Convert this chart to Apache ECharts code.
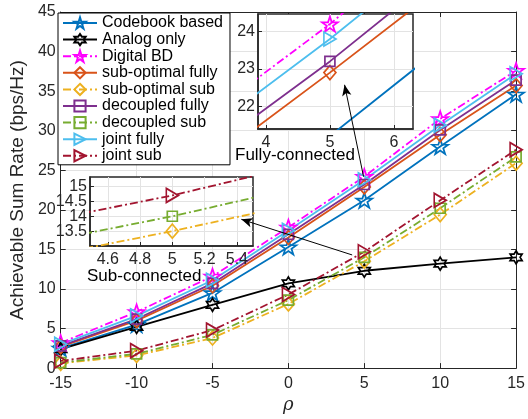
<!DOCTYPE html>
<html>
<head>
<meta charset="utf-8">
<script src="https://cdn.jsdelivr.net/npm/echarts@6/dist/echarts.min.js"></script>
<style>html,body{margin:0;padding:0;background:#fff}#c{width:528px;height:419px}</style>
</head>
<body>
<div id="c"></div>
<script>
// ---- data ----
const rho = [-15, -10, -5, 0, 5, 10, 15];
const xTicks = [-15, -10, -5, 0, 5, 10, 15];
const yTicks = [0, 5, 10, 15, 20, 25, 30, 35, 40, 45];
const codebook    = [2.5, 5.5, 9.5, 15.3, 21.2, 28.0, 34.6];
const analog      = [2.4, 5.2, 8.0, 10.7, 12.3, 13.2, 14.0];
const digitalBD   = [3.2, 7.1, 11.6, 17.8, 24.2, 31.5, 37.6];
const subOptFully = [2.7, 6.0, 10.4, 16.5, 22.9, 29.5, 35.7];
const subOptSub   = [0.6, 1.6, 3.8, 8.1, 13.5, 19.4, 25.9];
const decFully    = [2.8, 6.2, 10.7, 16.9, 23.2, 30.1, 36.4];
const decSub      = [0.7, 1.8, 4.2, 8.6, 14.0, 20.2, 26.7];
const jointFully  = [3.0, 6.6, 11.1, 17.4, 23.8, 30.7, 37.2];
const jointSub    = [0.9, 2.2, 4.8, 9.3, 14.7, 21.2, 27.6];
const inset1XTicks = [4, 5, 6];
const inset1YTicks = [22, 23, 24];
const inset2XTicks = [4.6, 4.8, 5, 5.2, 5.4];
const inset2YTicksA = [13.5, 14.5];
const inset2YTicksB = [14, 15];
const names = ['Codebook based','Analog only','Digital BD','sub-optimal fully','sub-optimal sub',
               'decoupled fully','decoupled sub','joint fully','joint sub'];
// arrows (in main-axis data units)
const arrow1 = [[4.95, 24.2], [3.7, 35.8]];
const arrow2 = [[4.2, 14.3], [-3.1, 18.8]];

const FONT = 'Liberation Sans, Arial, Helvetica, sans-serif';
const AX = '#262626';
const GRIDC = '#e3e3e3';

const STAR = 'path://M50,0 L61.23,34.55 L97.55,34.55 L68.16,55.9 L79.39,90.45 L50,69.1 L20.61,90.45 L31.84,55.9 L2.45,34.55 L38.77,34.55 Z';
const HEX = 'path://M50,0 L64.43,25 L93.3,25 L78.87,50 L93.3,75 L64.43,75 L50,100 L35.57,75 L6.7,75 L21.13,50 L6.7,25 L35.57,25 Z';
const TRI = 'path://M0,0 L100,50 L0,100 Z';

const DASHDOT = [8, 3, 2, 3];
const spec = {
  'Codebook based':    {d: codebook,    c: '#0072BD', s: STAR, sz: [16,15], t: 'solid'},
  'Analog only':       {d: analog,      c: '#000000', s: HEX, sz: [12,13], t: 'solid'},
  'Digital BD':        {d: digitalBD,   c: '#FF00FF', s: STAR, sz: [16,15], t: DASHDOT},
  'sub-optimal fully': {d: subOptFully, c: '#D95319', s: 'diamond', sz: [12,14], t: 'solid'},
  'sub-optimal sub':   {d: subOptSub,   c: '#EDB120', s: 'diamond', sz: [12,14], t: DASHDOT},
  'decoupled fully':   {d: decFully,    c: '#7E2F8E', s: 'rect', sz: [10,10], t: 'solid'},
  'decoupled sub':     {d: decSub,      c: '#77AC30', s: 'rect', sz: [10,10], t: DASHDOT},
  'joint fully':       {d: jointFully,  c: '#4DBEEE', s: TRI, sz: [12,14], t: 'solid'},
  'joint sub':         {d: jointSub,    c: '#A2142F', s: TRI, sz: [12,14], t: DASHDOT}
};

function mk(name, xi, yi, z) {
  const o = spec[name];
  return {
    name: name, type: 'line', xAxisIndex: xi, yAxisIndex: yi, z: z,
    data: rho.map((r, i) => [r, o.d[i]]),
    color: o.c,
    symbol: o.s, symbolSize: o.sz, showSymbol: true,
    lineStyle: {color: o.c, width: 1.8, type: o.t},
    itemStyle: {color: 'rgba(255,255,255,0)', borderColor: o.c, borderWidth: 1.7},
    emphasis: {disabled: true},
    animation: false, clip: true
  };
}

const series = [];
names.forEach(n => series.push(mk(n, 0, 0, 2)));
['Codebook based','Digital BD','sub-optimal fully','decoupled fully','joint fully'].forEach(n => series.push(mk(n, 2, 2, 4)));
['sub-optimal sub','decoupled sub','joint sub'].forEach(n => series.push(mk(n, 3, 3, 4)));
series.push({
  type: 'line', xAxisIndex: 0, yAxisIndex: 0, data: [], z: 6, silent: true,
  markLine: {
    silent: true, symbol: ['none', 'arrow'], symbolSize: [7, 11],
    label: {show: false},
    lineStyle: {color: '#000', width: 1, type: 'solid'},
    data: [
      [{coord: arrow1[0]}, {coord: arrow1[1]}],
      [{coord: arrow2[0]}, {coord: arrow2[1]}]
    ],
    animation: false
  }
});

const tickLbl = {color: AX, fontSize: 16, fontFamily: FONT};

function insetX(xmin, xmax, xt, gi, show) {
  return {type: 'value', gridIndex: gi, min: xmin, max: xmax, z: 3, show: show,
    axisLine: {show: true, onZero: false, lineStyle: {color: AX, width: 1.5}},
    axisTick: {show: true, inside: true, length: 4, customValues: xt, lineStyle: {color: AX}},
    axisLabel: {show: true, customValues: xt, margin: 6, ...tickLbl,
                showMinLabel: true, showMaxLabel: true, formatter: v => String(v)},
    splitLine: {show: true, lineStyle: {color: GRIDC, width: 1}}};
}
function insetY(ymin, ymax, yt, gi, lineShow) {
  return {type: 'value', gridIndex: gi, min: ymin, max: ymax, z: 3,
    axisLine: {show: lineShow, onZero: false, lineStyle: {color: AX, width: 1.5}},
    axisTick: {show: true, inside: true, length: 4, customValues: yt, lineStyle: {color: AX}},
    axisLabel: {show: true, customValues: yt, margin: 3, ...tickLbl,
                showMinLabel: true, showMaxLabel: true, formatter: v => String(v)},
    splitLine: {show: true, lineStyle: {color: GRIDC, width: 1}}};
}
const IN2 = {xmin: 4.49, xmax: 5.5, ymin: 13.0, ymax: 15.32};

const option = {
  backgroundColor: '#fff',
  animation: false,
  textStyle: {fontFamily: FONT},
  grid: [
    {left: 55, right: 11, top: 12, bottom: 42, show: false},
    {left: 258, top: 14, width: 155, height: 115, show: true, backgroundColor: '#fff',
     borderColor: AX, borderWidth: 1.5, z: 1},
    {left: 90, top: 177, width: 163, height: 69, show: true, backgroundColor: '#fff',
     borderColor: AX, borderWidth: 1.5, z: 1},
    {left: 90, top: 177, width: 163, height: 69, show: false, z: 2}
  ],
  legend: {
    orient: 'vertical', left: 58, top: 13, padding: [2, 7, 1, 4],
    itemWidth: 34, itemHeight: 14, itemGap: 0.6,
    backgroundColor: '#fff', borderColor: '#000', borderWidth: 1, z: 10,
    textStyle: {fontSize: 16, lineHeight: 16, color: '#000', fontFamily: FONT},
    data: names, selectedMode: false
  },
  xAxis: [
    {type: 'value', gridIndex: 0, min: -15, max: 15, interval: 5, z: 0,
     name: 'ρ', nameLocation: 'middle', nameGap: 24,
     nameTextStyle: {fontSize: 18, fontStyle: 'italic', color: AX, fontFamily: 'DejaVu Serif, serif'},
     axisLine: {show: true, onZero: false, lineStyle: {color: AX, width: 1}},
     axisTick: {show: true, inside: true, length: 5, lineStyle: {color: AX}},
     axisLabel: {margin: 7, ...tickLbl, showMinLabel: true, showMaxLabel: true},
     splitLine: {show: true, lineStyle: {color: GRIDC, width: 1}}},
    {type: 'value', gridIndex: 0, min: -15, max: 15, interval: 5, position: 'top', z: 0,
     axisLine: {show: true, onZero: false, lineStyle: {color: AX, width: 1}},
     axisTick: {show: true, inside: true, length: 5, lineStyle: {color: AX}},
     axisLabel: {show: false}, splitLine: {show: false}},
    insetX(3.875, 6.3, inset1XTicks, 1, true),
    insetX(IN2.xmin, IN2.xmax, inset2XTicks, 2, true),
    insetX(IN2.xmin, IN2.xmax, inset2XTicks, 3, false)
  ],
  yAxis: [
    {type: 'value', gridIndex: 0, min: 0, max: 45, interval: 5, z: 0,
     name: 'Achievable Sum Rate (bps/Hz)', nameLocation: 'middle', nameGap: 30,
     nameTextStyle: {fontSize: 19, color: AX, fontFamily: FONT},
     axisLine: {show: true, onZero: false, lineStyle: {color: AX, width: 1}},
     axisTick: {show: true, inside: true, length: 5, lineStyle: {color: AX}},
     axisLabel: {margin: 5, ...tickLbl, showMinLabel: true, showMaxLabel: true},
     splitLine: {show: true, lineStyle: {color: GRIDC, width: 1}}},
    {type: 'value', gridIndex: 0, min: 0, max: 45, interval: 5, position: 'right', z: 0,
     axisLine: {show: true, onZero: false, lineStyle: {color: AX, width: 1}},
     axisTick: {show: true, inside: true, length: 5, lineStyle: {color: AX}},
     axisLabel: {show: false}, splitLine: {show: false}},
    insetY(21.39, 24.47, inset1YTicks, 1, true),
    insetY(IN2.ymin, IN2.ymax, inset2YTicksA, 2, true),
    insetY(IN2.ymin, IN2.ymax, inset2YTicksB, 3, false)
  ],
  graphic: [
    {type: 'text', left: 235, top: 147, z: 20,
     style: {text: 'Fully-connected', fontSize: 17, fontFamily: FONT, fill: '#000'}},
    {type: 'text', left: 87, top: 268, z: 20,
     style: {text: 'Sub-connected', fontSize: 17, fontFamily: FONT, fill: '#000'}}
  ],
  series: series
};

const chart = echarts.init(document.getElementById('c'), null, {renderer: 'canvas'});
chart.setOption(option);
</script>
</body>
</html>
